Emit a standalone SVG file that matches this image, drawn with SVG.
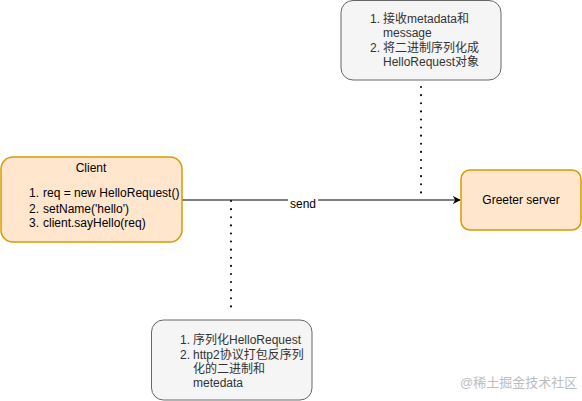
<svg xmlns="http://www.w3.org/2000/svg" width="582" height="401" viewBox="0 0 582 401">
<defs>
<style>
text{font-family:"Liberation Sans","Noto Sans CJK SC",sans-serif;font-size:12px;fill:#000}
.orange{fill:#ffe6cc;stroke:#d79b00;stroke-width:1.5}
.grey{fill:#f5f5f5;stroke:#666666;stroke-width:1}
.gt{fill:#333333}
.dot{stroke:#000;stroke-width:2;stroke-dasharray:0.1 8;stroke-linecap:round;fill:none}
.edge{stroke:#000;stroke-width:1.2;fill:none}
</style>
<marker id="arr" viewBox="0 0 10 10" refX="9" refY="5" markerWidth="8" markerHeight="8" markerUnits="userSpaceOnUse" orient="auto">
<path d="M0,0 L10,5 L0,10 L3,5 Z" fill="#000"/>
</marker>
</defs>
<rect width="582" height="401" fill="#ffffff"/>
<g id="connectors">
<line class="edge" x1="182" y1="200" x2="460" y2="200" marker-end="url(#arr)"/>
<rect x="288" y="196" width="30" height="14" fill="#ffffff"/>
<text x="303" y="208" text-anchor="middle">send</text>
<line class="dot" x1="421" y1="87" x2="421" y2="199"/>
<line class="dot" x1="231" y1="201" x2="231" y2="313"/>
</g>
<g id="client">
<rect class="orange" x="1" y="157" width="181" height="85" rx="12"/>
<text x="91" y="172" text-anchor="middle">Client</text>
<text x="29" y="197">1.</text><text x="43" y="197">req = new HelloRequest()</text>
<text x="29" y="213">2.</text><text x="43" y="213">setName('hello')</text>
<text x="29" y="227">3.</text><text x="43" y="227">client.sayHello(req)</text>
</g>
<g id="server">
<rect class="orange" x="461" y="170" width="120" height="60" rx="9"/>
<text x="521" y="204" text-anchor="middle">Greeter server</text>
</g>
<g id="note-top">
<rect class="grey" x="341" y="0.5" width="160" height="79.5" rx="12"/>
<text class="gt" x="370" y="23">1.</text><text class="gt" x="383" y="23">接收metadata和</text>
<text class="gt" x="383" y="37">message</text>
<text class="gt" x="370" y="52">2.</text><text class="gt" x="383" y="52">将二进制序列化成</text>
<text class="gt" x="383" y="66">HelloRequest对象</text>
</g>
<g id="note-bottom">
<rect class="grey" x="151.5" y="320" width="160.5" height="80" rx="12"/>
<text class="gt" x="180" y="344">1.</text><text class="gt" x="193" y="344">序列化HelloRequest</text>
<text class="gt" x="180" y="359">2.</text><text class="gt" x="193" y="359">http2协议打包反序列</text>
<text class="gt" x="193" y="373">化的二进制和</text>
<text class="gt" x="193" y="387">metedata</text>
</g>
<text x="460" y="387" style="font-size:13px;fill:#bdbdbd">@稀土掘金技术社区</text>
</svg>
